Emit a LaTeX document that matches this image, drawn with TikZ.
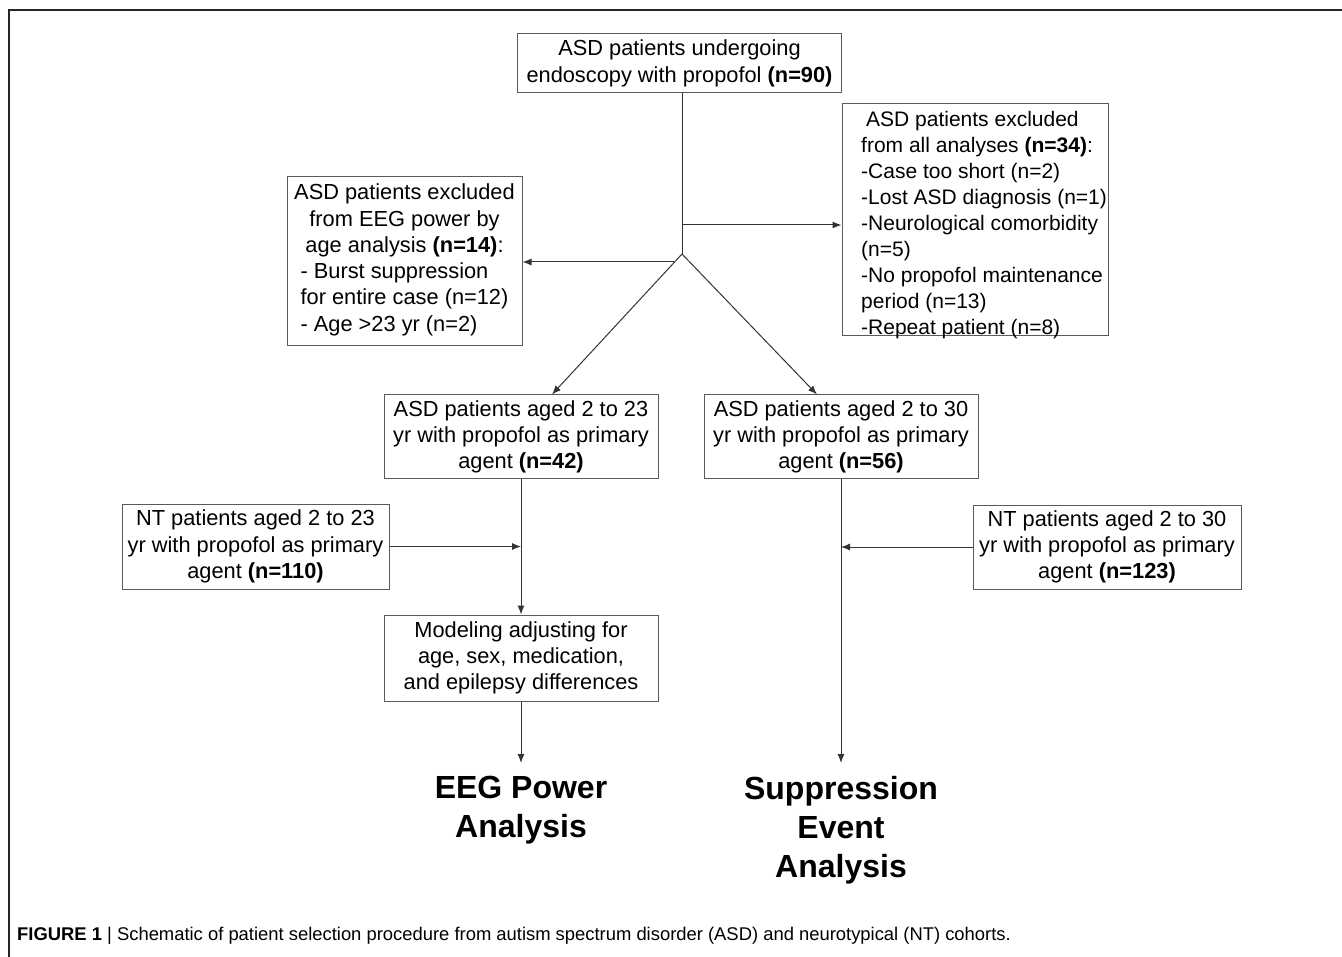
\documentclass[tikz,border=0pt]{standalone}
\usepackage{fontspec}
\setmainfont{Liberation Sans}
\usetikzlibrary{arrows.meta}
\definecolor{boxgray}{HTML}{5A5A5A}
\definecolor{linegray}{HTML}{333333}
\begin{document}
\begin{tikzpicture}[x=1pt,y=-1pt,
    main/.style = {draw=boxgray, line width=1pt, rectangle, inner sep=0pt, align=center, font=\fontsize{21.8pt}{26.3pt}\selectfont},
    notes/.style = {align=left, inner sep=0pt, font=\fontsize{21pt}{26pt}\selectfont},
    big/.style = {align=center, inner xsep=0pt, inner ysep=13pt, anchor=north, font=\fontsize{32pt}{39pt}\selectfont\bfseries},
    arr/.style = {draw=linegray, line width=1pt},
    >={Latex[length=9pt,width=7pt]}]
    \useasboundingbox (0,0) rectangle (1342,957);
    \draw[line width=2pt, draw=black!85] (9,957) -- (9,10) -- (1342,10);
    \node[main, minimum width=324pt, minimum height=59pt] (1) at (679.5,63.5) {ASD patients undergoing\\ endoscopy with propofol \textbf{(n=90)}};
    \node[main, minimum width=235pt, minimum height=169pt] (2) at (404.5,261.5) {ASD patients excluded\\ from EEG power by\\ age analysis \textbf{(n=14)}:\\ \begin{tabular}[t]{@{}l@{}}- Burst suppression\\ for entire case (n=12)\\ - Age >23 yr (n=2)\end{tabular}};
    \node[main, minimum width=266pt, minimum height=232pt] (3) at (975,220) {};
    \node[notes, anchor=west] (3t) at (861,225) {\hspace*{5pt}ASD patients excluded\\ from all analyses \textbf{(n=34)}:\\ -Case too short (n=2)\\ -Lost ASD diagnosis (n=1)\\ -Neurological comorbidity\\ (n=5)\\ -No propofol maintenance\\ period (n=13)\\ -Repeat patient (n=8)};
    \node[main, minimum width=274pt, minimum height=84pt] (4) at (521,437) {ASD patients aged 2 to 23\\ yr with propofol as primary\\ agent \textbf{(n=42)}};
    \node[main, minimum width=274pt, minimum height=84pt] (5) at (841,437) {ASD patients aged 2 to 30\\ yr with propofol as primary\\ agent \textbf{(n=56)}};
    \node[main, minimum width=267pt, minimum height=85pt] (6) at (255.5,546.5) {NT patients aged 2 to 23\\ yr with propofol as primary\\ agent \textbf{(n=110)}};
    \node[main, minimum width=268pt, minimum height=84pt] (7) at (1107,547) {NT patients aged 2 to 30\\ yr with propofol as primary\\ agent \textbf{(n=123)}};
    \node[main, minimum width=274pt, minimum height=86pt] (8) at (521,658) {Modeling adjusting for\\ age, sex, medication,\\ and epilepsy differences};
    \node[big] (9) at (521,763) {EEG Power\\ Analysis};
    \node[big] (10) at (841,763) {Suppression\\ Event\\ Analysis};
    \node[anchor=base west, inner sep=0pt, font=\fontsize{18.4pt}{22pt}\selectfont] (11) at (17,940) {\textbf{FIGURE 1} | Schematic of patient selection procedure from autism spectrum disorder (ASD) and neurotypical (NT) cohorts.};
    \coordinate (s) at (682,254);
    \coordinate (r) at (682,225);
    \coordinate (l) at (674,262);
    \draw[arr] (1.south -| s) -- (s);
    \draw[arr, ->] (r) -- (r -| 3.west);
    \draw[arr, ->] (l) -- (l -| 2.east);
    \draw[arr, ->] (s) -- ([xshift=31pt]4.north);
    \draw[arr, ->] (s) -- ([xshift=-24pt]5.north);
    \draw[arr, ->] (4.south) -- (8.north);
    \draw[arr, ->] (6.east) -- (6.east -| 4.south);
    \draw[arr, ->] (8.south) -- (9.north);
    \draw[arr, ->] (5.south) -- (10.north);
    \draw[arr, ->] (7.west) -- (7.west -| 5.south);
\end{tikzpicture}
\end{document}
